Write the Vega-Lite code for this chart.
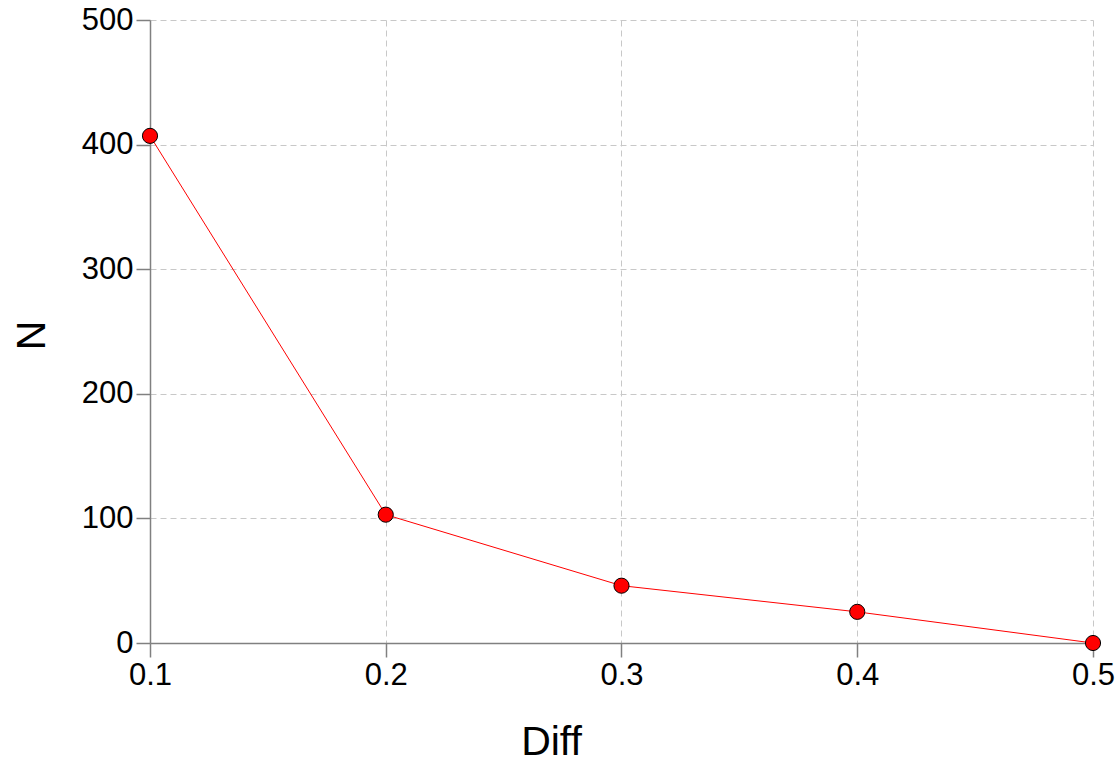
{
  "$schema": "https://vega.github.io/schema/vega-lite/v6.json",
  "autosize": "none",
  "width": 943,
  "height": 623,
  "padding": {"left": 150, "top": 20, "right": 27, "bottom": 117},
  "background": "white",
  "config": {
    "font": "Liberation Sans",
    "view": {"stroke": null},
    "axis": {
      "domainColor": "#808080",
      "domainWidth": 1.5,
      "tickColor": "#808080",
      "tickWidth": 1.5,
      "tickSize": 14,
      "gridColor": "#c8c8c8",
      "gridDash": [6, 4],
      "gridWidth": 1,
      "labelFont": "Liberation Sans",
      "labelFontSize": 31,
      "labelColor": "black",
      "titleFont": "Liberation Sans",
      "titleFontSize": 41,
      "titleFontWeight": "normal",
      "titleColor": "black"
    }
  },
  "data": {
    "values": [
      {"Diff": 0.1, "N": 407},
      {"Diff": 0.2, "N": 103},
      {"Diff": 0.3, "N": 46},
      {"Diff": 0.4, "N": 25},
      {"Diff": 0.5, "N": 0}
    ]
  },
  "encoding": {
    "x": {
      "field": "Diff",
      "type": "quantitative",
      "scale": {"domain": [0.1, 0.5], "nice": false, "zero": false},
      "axis": {"values": [0.1, 0.2, 0.3, 0.4, 0.5], "format": ".1f", "labelPadding": 3, "labelFlush": false, "titleX": 401, "titleY": 111, "titleAlign": "center", "titleBaseline": "alphabetic", "titleAnchor": null}
    },
    "y": {
      "field": "N",
      "type": "quantitative",
      "scale": {"domain": [0, 500], "nice": false},
      "axis": {"values": [0, 100, 200, 300, 400, 500], "labelPadding": 3, "titleX": -106, "titleY": 315, "titleAlign": "center", "titleBaseline": "alphabetic", "titleAngle": -90}
    }
  },
  "layer": [
    {"mark": {"type": "line", "color": "#ff0000", "strokeWidth": 1}},
    {"mark": {"type": "point", "filled": true, "fill": "#ff0000", "stroke": "black", "strokeWidth": 1, "size": 230, "opacity": 1}}
  ]
}
